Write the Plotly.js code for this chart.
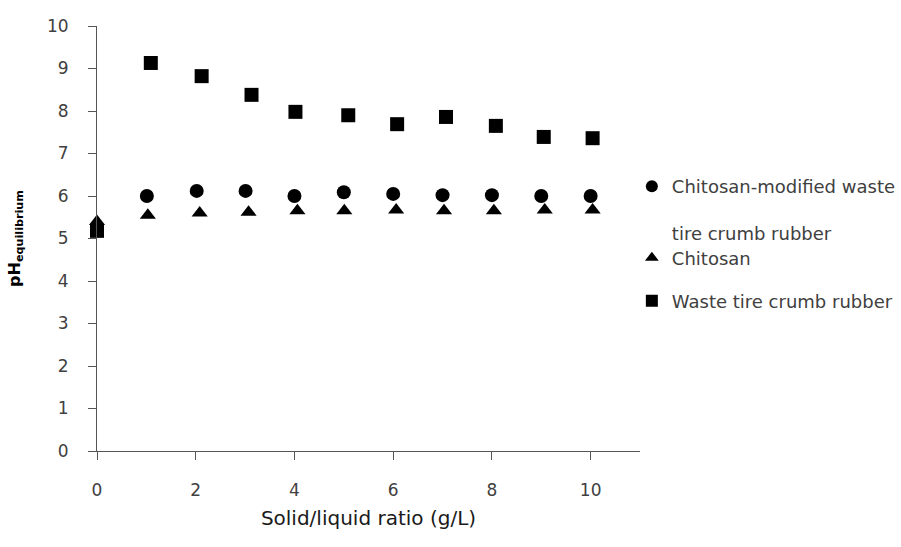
<!DOCTYPE html>
<html><head><meta charset="utf-8">
<script src="https://cdn.plot.ly/plotly-3.0.1.min.js"></script>
<style>html,body{margin:0;padding:0;background:#fff}</style>
</head><body>
<div id="chart" style="width:901px;height:547px"></div>
<script>
const seriesNames = ["Chitosan-modified waste<br><br>tire crumb rubber", "Chitosan", "Waste tire crumb rubber"];
const xModified = [0, 1.01, 2.02, 3.01, 4.0, 5.0, 6.0, 7.0, 8.0, 9.0, 10.0];
const yModified = [5.2, 6.0, 6.12, 6.12, 6.0, 6.09, 6.05, 6.02, 6.02, 6.0, 6.0];
const xChitosan = [0, 1.03, 2.08, 3.07, 4.06, 5.01, 6.06, 7.03, 8.04, 9.07, 10.04];
const yChitosan = [5.4, 5.55, 5.6, 5.62, 5.65, 5.65, 5.67, 5.65, 5.65, 5.67, 5.67];
const xWaste = [0, 1.09, 2.12, 3.13, 4.02, 5.09, 6.08, 7.07, 8.08, 9.05, 10.04];
const yWaste = [5.18, 9.13, 8.82, 8.38, 7.98, 7.9, 7.69, 7.86, 7.65, 7.39, 7.36];
const xTicks = [0, 2, 4, 6, 8, 10];
const yTicks = [0, 1, 2, 3, 4, 5, 6, 7, 8, 9, 10];

const font = "'DejaVu Sans', 'Noto Sans', sans-serif";
const legFont = {family: font, size: 18, color: "#404040"};
const traces = [
  {x: xModified, y: yModified, name: seriesNames[0], legend: "legend", mode: "markers", type: "scatter", cliponaxis: false,
   marker: {symbol: "circle", size: 14, color: "#000"}},
  {x: xChitosan, y: yChitosan, name: seriesNames[1], legend: "legend2", mode: "markers", type: "scatter", cliponaxis: false,
   marker: {symbol: "triangle-up", size: 14, color: "#000"}},
  {x: xWaste, y: yWaste, name: seriesNames[2], legend: "legend3", mode: "markers", type: "scatter", cliponaxis: false,
   marker: {symbol: "square", size: 14, color: "#000"}}
];
const legBase = {x: 0.985, xanchor: "left", font: legFont, itemsizing: "constant", bgcolor: "rgba(0,0,0,0)", valign: "top"};
const layout = {
  width: 901, height: 547,
  margin: {l: 97, r: 261, t: 26, b: 96, autoexpand: false},
  paper_bgcolor: "#fff", plot_bgcolor: "#fff",
  font: {family: font, size: 17, color: "#404040"},
  showlegend: true,
  legend: Object.assign({}, legBase, {y: (451 - 168) / 425, yanchor: "top"}),
  legend2: Object.assign({}, legBase, {y: (451 - 258) / 425, yanchor: "middle"}),
  legend3: Object.assign({}, legBase, {y: (451 - 301) / 425, yanchor: "middle"}),
  xaxis: {range: [0, 11], tickvals: xTicks, ticks: "outside", ticklen: 8, tickcolor: "#555",
    showline: true, linecolor: "#555", linewidth: 1, showgrid: false, zeroline: false,
    ticklabelstandoff: 16, tickfont: {size: 17, color: "#404040"},
    title: {text: "Solid/liquid ratio (g/L)", font: {size: 20, color: "#1a1a1a"}, standoff: 11}},
  yaxis: {range: [0, 10], tickvals: yTicks, ticks: "outside", ticklen: 8, tickcolor: "#555",
    showline: true, linecolor: "#555", linewidth: 1, showgrid: false, zeroline: false,
    ticklabelstandoff: 16, tickfont: {size: 17, color: "#404040"},
    title: {text: "<b>pH<sub>equilibrium</sub></b>", font: {size: 16, color: "#000"}, standoff: 22}}
};
Plotly.newPlot("chart", traces, layout, {displayModeBar: false, staticPlot: true});
</script>
</body></html>
